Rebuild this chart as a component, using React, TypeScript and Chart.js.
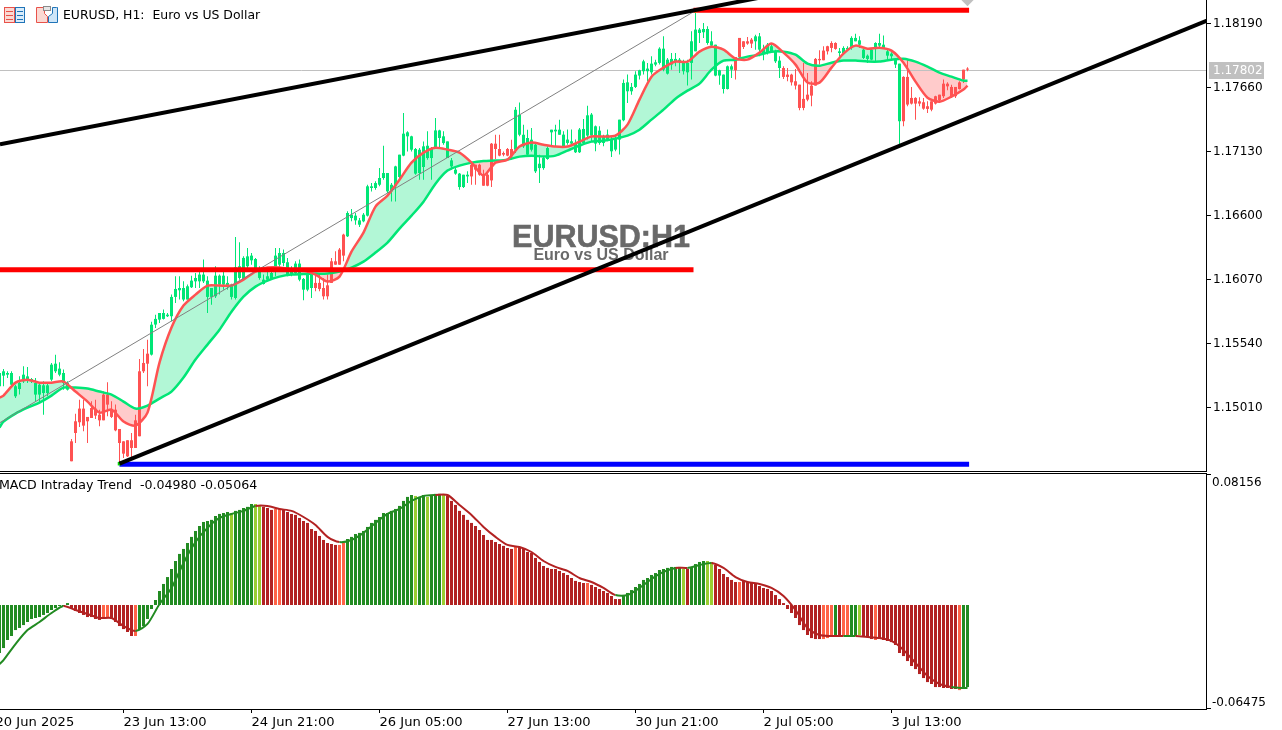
import React, { useEffect, useRef } from "react";
import { Chart, registerables } from "chart.js";

Chart.register(...registerables);

const FONT = '"DejaVu Sans", sans-serif';

// Number of the first bar in every per-bar list (it is cut by the left edge)
const firstBar = -1;

const highs = [
  1.15297,
  1.15330,1.15311,1.15311,1.15200,1.15269,1.15352,1.15347,1.15256,1.15256,1.15220,
  1.15228,1.15214,1.15380,1.15449,1.15385,1.15325,1.15228,1.14750,1.14960,1.15076,
  1.15076,1.14933,1.15062,1.15076,1.14993,1.15145,1.15220,1.15062,1.15035,1.14833,
  1.14731,1.14740,1.14800,1.14952,1.15413,1.15496,1.15573,1.15722,1.15780,1.15794,
  1.15822,1.15794,1.15946,1.16098,1.16098,1.16056,1.16029,1.16103,1.16125,1.16153,
  1.16236,1.16098,1.16001,1.16181,1.16112,1.16139,1.16098,1.16037,1.16423,1.16379,
  1.16263,1.16332,1.16291,1.16250,1.16181,1.16112,1.16167,1.16167,1.16332,1.16332,
  1.16319,1.16250,1.16181,1.16222,1.16236,1.16084,1.16153,1.16112,1.16112,1.16125,
  1.16084,1.16112,1.16250,1.16305,1.16332,1.16451,1.16636,1.16655,1.16622,1.16580,
  1.16622,1.16856,1.16870,1.16884,1.16994,1.17179,1.16953,1.16870,1.17014,1.17105,
  1.17450,1.17298,1.17262,1.17160,1.17160,1.17215,1.17298,1.17168,1.17408,1.17312,
  1.17298,1.17215,1.17077,1.16994,1.16953,1.16939,1.16967,1.17030,1.17022,1.17030,
  1.16981,1.16953,1.17201,1.17270,1.17270,1.17132,1.17160,1.17229,1.17499,1.17538,
  1.17353,1.17312,1.17326,1.17201,1.17105,1.17091,1.17174,1.17312,1.17353,1.17395,
  1.17299,1.17313,1.17313,1.17230,1.17326,1.17401,1.17511,1.17451,1.17346,1.17340,
  1.17271,1.17313,1.17257,1.17271,1.17395,1.17727,1.17768,1.17699,1.17796,1.17809,
  1.17892,1.17865,1.17920,1.17892,1.17994,1.18085,1.17906,1.17947,1.17947,1.17906,
  1.17892,1.17892,1.18127,1.18279,1.18154,1.18196,1.18168,1.18127,1.18016,1.17809,
  1.17768,1.17843,1.17851,1.17914,1.18072,1.18044,1.18080,1.18072,1.18099,1.18113,
  1.18016,1.18030,1.18030,1.17975,1.17920,1.17837,1.17823,1.17776,1.17815,1.17685,
  1.17865,1.17782,1.17713,1.17906,1.17969,1.18003,1.18008,1.18044,1.18036,1.17989,
  1.18003,1.18003,1.18085,1.18107,1.18085,1.17981,1.17934,1.17989,1.18036,1.18107,
  1.18091,1.17975,1.17953,1.17906,1.17859,1.17754,1.17892,1.17666,1.17580,1.17580,
  1.17575,1.17547,1.17547,1.17594,1.17602,1.17727,1.17704,1.17685,1.17666,1.17713,1.17809,1.17829,
];

const closes = [
  1.15297,
  1.15311,1.15297,1.15297,1.15187,1.15214,1.15283,1.15269,1.15247,1.15214,1.15200,
  1.15195,1.15195,1.15366,1.15374,1.15333,1.15297,1.15214,1.14731,1.14897,1.15002,
  1.15002,1.14933,1.15007,1.15002,1.14952,1.15118,1.15118,1.14993,1.14993,1.14833,
  1.14731,1.14740,1.14740,1.14905,1.15311,1.15380,1.15457,1.15697,1.15745,1.15794,
  1.15794,1.15780,1.15927,1.15993,1.16001,1.16001,1.16015,1.16062,1.16084,1.16112,
  1.16112,1.16062,1.16001,1.16103,1.16103,1.16103,1.16043,1.16029,1.16172,1.16181,
  1.16250,1.16263,1.16269,1.16241,1.16167,1.16070,1.16098,1.16125,1.16269,1.16291,
  1.16291,1.16214,1.16153,1.16203,1.16203,1.16076,1.16112,1.16112,1.16043,1.16043,
  1.16001,1.16023,1.16222,1.16222,1.16319,1.16443,1.16622,1.16608,1.16600,1.16561,
  1.16608,1.16843,1.16843,1.16870,1.16912,1.16953,1.16953,1.16856,1.17008,1.17105,
  1.17279,1.17290,1.17257,1.17152,1.17146,1.17174,1.17179,1.17160,1.17306,1.17306,
  1.17257,1.17215,1.17058,1.16981,1.16948,1.16939,1.16939,1.17022,1.17022,1.17022,
  1.16939,1.16939,1.17196,1.17196,1.17152,1.17119,1.17152,1.17152,1.17477,1.17436,
  1.17270,1.17243,1.17229,1.17188,1.17030,1.17077,1.17160,1.17312,1.17312,1.17312,
  1.17271,1.17230,1.17216,1.17197,1.17313,1.17318,1.17431,1.17437,1.17340,1.17304,
  1.17257,1.17271,1.17235,1.17235,1.17395,1.17699,1.17704,1.17666,1.17768,1.17804,
  1.17878,1.17818,1.17859,1.17870,1.17983,1.17983,1.17892,1.17898,1.17898,1.17892,
  1.17870,1.17865,1.18044,1.18141,1.18141,1.18146,1.18146,1.18044,1.18016,1.17804,
  1.17768,1.17837,1.17837,1.17914,1.18072,1.18044,1.18044,1.18058,1.18085,1.18085,
  1.17975,1.18016,1.18003,1.17961,1.17884,1.17823,1.17768,1.17768,1.17713,1.17685,
  1.17567,1.17602,1.17677,1.17898,1.17898,1.17967,1.18003,1.18030,1.18030,1.17961,
  1.17989,1.17989,1.18072,1.18072,1.18052,1.17975,1.17925,1.17975,1.18030,1.18030,
  1.18016,1.17961,1.17942,1.17898,1.17859,1.17749,1.17749,1.17575,1.17575,1.17547,
  1.17539,1.17506,1.17547,1.17589,1.17602,1.17693,1.17693,1.17666,1.17666,1.17704,1.17809,1.17818,
];

const opens = [
  1.15187,
  1.15275,1.15283,1.15200,1.15104,1.15164,1.15228,1.15247,1.15228,1.15118,1.15118,
  1.15131,1.15131,1.15242,1.15311,1.15283,1.15214,1.15159,1.14566,1.14800,1.14889,
  1.14861,1.14897,1.14924,1.14944,1.14905,1.14905,1.15035,1.14933,1.14822,1.14717,
  1.14629,1.14607,1.14676,1.14676,1.14773,1.15311,1.15374,1.15449,1.15698,1.15739,
  1.15745,1.15767,1.15767,1.15927,1.15982,1.15905,1.15905,1.16007,1.16056,1.16056,
  1.16056,1.15927,1.15927,1.15932,1.16029,1.16029,1.16015,1.15927,1.15918,1.16084,
  1.16076,1.16181,1.16230,1.16153,1.16084,1.16034,1.16070,1.16076,1.16153,1.16194,
  1.16208,1.16112,1.16112,1.16125,1.16070,1.15987,1.15987,1.16001,1.16001,1.15993,
  1.15932,1.15932,1.16043,1.16194,1.16194,1.16269,1.16429,1.16580,1.16561,1.16525,
  1.16553,1.16600,1.16829,1.16829,1.16856,1.16912,1.16801,1.16801,1.16843,1.16920,
  1.17097,1.17257,1.17146,1.16948,1.16953,1.17003,1.17077,1.17077,1.17168,1.17243,
  1.17201,1.17077,1.17008,1.16948,1.16837,1.16837,1.16925,1.16925,1.16981,1.16939,
  1.16848,1.16848,1.16892,1.17152,1.17097,1.17105,1.17097,1.17091,1.17146,1.17270,
  1.17174,1.17105,1.17146,1.16967,1.16994,1.16994,1.17069,1.17290,1.17298,1.17270,
  1.17175,1.17202,1.17197,1.17125,1.17125,1.17202,1.17263,1.17263,1.17197,1.17202,
  1.17202,1.17230,1.17133,1.17147,1.17230,1.17390,1.17630,1.17630,1.17666,1.17760,
  1.17796,1.17796,1.17787,1.17851,1.17865,1.17809,1.17776,1.17851,1.17878,1.17878,
  1.17796,1.17787,1.17865,1.17961,1.18113,1.18119,1.18030,1.18008,1.17760,1.17760,
  1.17649,1.17649,1.17809,1.17804,1.17914,1.17997,1.18025,1.18025,1.18044,1.17975,
  1.17947,1.17953,1.17961,1.17878,1.17823,1.17749,1.17749,1.17704,1.17677,1.17492,
  1.17492,1.17561,1.17594,1.17677,1.17887,1.17887,1.17961,1.17989,1.17981,1.17947,
  1.17947,1.17975,1.17989,1.18044,1.18016,1.17906,1.17898,1.17892,1.17989,1.18008,
  1.17989,1.17925,1.17920,1.17851,1.17382,1.17382,1.17520,1.17528,1.17528,1.17528,
  1.17486,1.17484,1.17478,1.17528,1.17555,1.17589,1.17671,1.17583,1.17589,1.17649,1.17727,1.17809,
];

const lows = [
  1.15187,
  1.15187,1.15256,1.15173,1.15090,1.15118,1.15214,1.15214,1.15214,1.15062,1.15049,
  1.14952,1.15104,1.15228,1.15297,1.15269,1.15159,1.15153,1.14566,1.14717,1.14850,
  1.14814,1.14717,1.14924,1.14916,1.14855,1.14905,1.14938,1.14924,1.14814,1.14552,
  1.14593,1.14601,1.14593,1.14676,1.14773,1.15297,1.15187,1.15441,1.15670,1.15711,
  1.15739,1.15761,1.15725,1.15877,1.15905,1.15891,1.15905,1.16001,1.16001,1.16001,
  1.16043,1.15794,1.15863,1.15918,1.15946,1.15987,1.15987,1.15905,1.15905,1.16070,
  1.16070,1.16167,1.16194,1.16139,1.16070,1.16029,1.16056,1.16070,1.16098,1.16167,
  1.16181,1.16098,1.16098,1.16112,1.16056,1.15899,1.15974,1.15918,1.15974,1.15974,
  1.15905,1.15905,1.16043,1.16194,1.16194,1.16222,1.16423,1.16553,1.16525,1.16506,
  1.16545,1.16594,1.16801,1.16815,1.16843,1.16898,1.16787,1.16718,1.16718,1.16912,
  1.17091,1.17132,1.17132,1.16939,1.16898,1.16898,1.17063,1.16898,1.17160,1.17160,
  1.17188,1.17077,1.16981,1.16939,1.16815,1.16829,1.16870,1.16856,1.16856,1.16931,
  1.16848,1.16843,1.16837,1.17069,1.17091,1.17091,1.17091,1.17063,1.17119,1.17257,
  1.17160,1.17097,1.17132,1.16953,1.16870,1.16981,1.17063,1.17174,1.17174,1.17270,
  1.17161,1.17188,1.17175,1.17119,1.17119,1.17188,1.17230,1.17216,1.17133,1.17188,
  1.17175,1.17216,1.17086,1.17133,1.17106,1.17382,1.17533,1.17602,1.17658,1.17727,
  1.17768,1.17713,1.17768,1.17837,1.17851,1.17796,1.17768,1.17809,1.17837,1.17782,
  1.17768,1.17677,1.17727,1.17961,1.18030,1.18072,1.18016,1.18003,1.17754,1.17685,
  1.17611,1.17644,1.17740,1.17727,1.17892,1.17981,1.18016,1.17989,1.17975,1.17920,
  1.17887,1.17934,1.17947,1.17865,1.17740,1.17732,1.17713,1.17677,1.17644,1.17473,
  1.17473,1.17547,1.17506,1.17677,1.17851,1.17887,1.17934,1.17953,1.17975,1.17906,
  1.17934,1.17975,1.17975,1.18044,1.17989,1.17898,1.17865,1.17887,1.17878,1.17989,
  1.17981,1.17892,1.17887,1.17823,1.17188,1.17340,1.17506,1.17520,1.17395,1.17506,
  1.17478,1.17451,1.17464,1.17520,1.17547,1.17575,1.17638,1.17575,1.17575,1.17644,1.17699,1.17796,
];

// Candle colour follows the indicator state: [state, run length]
const candleTrendRuns: [string, number][] = [
  ["up", 18], ["down", 20], ["up", 41], ["down", 8], ["up", 31], ["down", 11],
  ["up", 55], ["down", 5], ["up", 7], ["down", 14], ["up", 16], ["down", 17],
];

// Bars at which the smoothed lines were read
const sampleBars = [
  -1,0,3,6,9,12,15,18,21,24,27,30,33,36,39,42,45,48,51,54,57,60,63,66,69,72,75,78,81,84,87,
  90,93,96,99,102,105,108,111,114,117,120,123,126,129,132,135,138,141,144,147,150,153,156,159,
  162,165,168,171,174,177,180,183,186,189,192,195,198,201,204,207,210,213,216,219,222,225,228,
  231,234,237,240,241,
];

const fastLine = [
  1.15093,
  1.15110,1.15217,1.15242,1.15217,1.15217,1.15226,1.15143,1.15060,1.14969,1.14994,
  1.14895,1.14861,1.14969,1.15383,1.15673,1.15855,1.15946,1.16021,1.16021,1.16021,
  1.16070,1.16137,1.16170,1.16170,1.16153,1.16145,1.16112,1.16054,1.16095,1.16302,
  1.16460,1.16675,1.16766,1.16898,1.17039,1.17122,1.17163,1.17147,1.17122,1.17039,
  1.16932,1.17039,1.17064,1.17172,1.17205,1.17188,1.17172,1.17172,1.17213,1.17255,
  1.17255,1.17263,1.17354,1.17561,1.17751,1.17826,1.17876,1.17876,1.17958,1.17999,
  1.17975,1.17900,1.17892,1.17950,1.18025,1.17950,1.17851,1.17702,1.17702,1.17826,
  1.17942,1.18008,1.17983,1.17991,1.17967,1.17867,1.17710,1.17577,1.17544,1.17586,
  1.17644,1.17677,
];

const slowLine = [
  1.14845,
  1.14894,1.14961,1.15010,1.15052,1.15110,1.15176,1.15176,1.15168,1.15143,1.15118,
  1.15060,1.15002,1.15027,1.15085,1.15143,1.15259,1.15408,1.15532,1.15656,1.15805,
  1.15930,1.16012,1.16062,1.16095,1.16112,1.16116,1.16120,1.16120,1.16137,1.16170,
  1.16219,1.16294,1.16377,1.16493,1.16600,1.16716,1.16865,1.16973,1.17014,1.17039,
  1.17052,1.17056,1.17064,1.17089,1.17097,1.17089,1.17097,1.17139,1.17180,1.17213,
  1.17221,1.17238,1.17263,1.17312,1.17395,1.17478,1.17569,1.17635,1.17693,1.17809,
  1.17884,1.17892,1.17917,1.17933,1.17958,1.17958,1.17933,1.17859,1.17842,1.17867,
  1.17884,1.17884,1.17876,1.17876,1.17892,1.17900,1.17876,1.17834,1.17784,1.17751,
  1.17718,1.17718,
];

const histValues = [
  -0.0299,
  -0.0268,-0.0218,-0.0193,-0.0156,-0.0143,-0.0125,-0.0106,-0.0087,-0.0081,-0.0075,
  -0.0062,-0.0050,-0.0031,-0.0019,-0.0006,-0.0006,0.0012,-0.0019,-0.0037,-0.0050,
  -0.0062,-0.0075,-0.0075,-0.0087,-0.0093,-0.0087,-0.0081,-0.0087,-0.0106,-0.0131,
  -0.0150,-0.0168,-0.0193,-0.0193,-0.0156,-0.0131,-0.0087,-0.0025,0.0031,0.0087,
  0.0131,0.0174,0.0224,0.0274,0.0318,0.0349,0.0386,0.0424,0.0461,0.0492,
  0.0517,0.0523,0.0530,0.0554,0.0567,0.0573,0.0579,0.0573,0.0586,0.0592,
  0.0604,0.0611,0.0629,0.0629,0.0617,0.0611,0.0604,0.0592,0.0598,0.0598,
  0.0592,0.0579,0.0567,0.0561,0.0542,0.0523,0.0511,0.0473,0.0461,0.0430,
  0.0405,0.0386,0.0380,0.0374,0.0374,0.0386,0.0411,0.0424,0.0442,0.0449,
  0.0461,0.0486,0.0511,0.0530,0.0548,0.0573,0.0573,0.0586,0.0598,0.0617,
  0.0648,0.0673,0.0685,0.0679,0.0673,0.0685,0.0673,0.0679,0.0692,0.0692,
  0.0685,0.0679,0.0648,0.0623,0.0586,0.0561,0.0530,0.0511,0.0492,0.0467,
  0.0436,0.0405,0.0405,0.0392,0.0380,0.0368,0.0355,0.0349,0.0361,0.0361,
  0.0349,0.0330,0.0324,0.0293,0.0268,0.0243,0.0231,0.0224,0.0224,0.0212,
  0.0199,0.0187,0.0168,0.0150,0.0143,0.0137,0.0137,0.0125,0.0112,0.0100,
  0.0087,0.0075,0.0056,0.0037,0.0037,0.0062,0.0075,0.0093,0.0112,0.0131,
  0.0156,0.0168,0.0187,0.0199,0.0218,0.0224,0.0231,0.0237,0.0237,0.0237,
  0.0224,0.0224,0.0237,0.0255,0.0268,0.0274,0.0274,0.0268,0.0249,0.0224,
  0.0193,0.0174,0.0156,0.0143,0.0143,0.0150,0.0143,0.0143,0.0137,0.0118,
  0.0106,0.0100,0.0087,0.0062,0.0037,0.0012,-0.0025,-0.0050,-0.0081,-0.0125,
  -0.0156,-0.0187,-0.0206,-0.0212,-0.0212,-0.0212,-0.0206,-0.0199,-0.0193,-0.0193,
  -0.0193,-0.0193,-0.0193,-0.0193,-0.0187,-0.0193,-0.0199,-0.0212,-0.0218,-0.0212,
  -0.0218,-0.0224,-0.0231,-0.0249,-0.0299,-0.0318,-0.0349,-0.0380,-0.0399,-0.0430,
  -0.0455,-0.0480,-0.0492,-0.0511,-0.0511,-0.0517,-0.0517,-0.0523,-0.0523,-0.0530,-0.0511,-0.0511,
];

const histStateRuns: [string, number][] = [
  ["G",18],["R",8],["T",2],["R",6],["T",1],["G",23],["Y",1],["G",5],["Y",2],["R",3],["T",2],
  ["R",14],["T",2],["G",17],["Y",1],["G",2],["Y",1],["G",3],["Y",1],["R",17],["T",1],["R",17],
  ["T",1],["R",8],["G",15],["Y",1],["R",1],["G",4],["Y",2],["R",6],["T",1],["R",20],["T",3],
  ["G",1],["R",1],["T",2],["G",2],["Y",1],["R",3],["T",1],["R",20],["T",1],["G",2],
];

const signalLine = [
  -0.0368,
  -0.0343,-0.0243,-0.0156,-0.0106,-0.0050,-0.0006,
  -0.0031,-0.0056,-0.0081,-0.0081,-0.0131,-0.0162,-0.0118,0.0006,
  0.0106,0.0262,0.0392,0.0480,0.0542,0.0567,0.0586,0.0617,0.0617,0.0598,0.0586,0.0548,0.0498,0.0424,
  0.0392,0.0405,0.0449,0.0511,0.0567,0.0598,0.0648,0.0679,0.0685,0.0685,0.0623,0.0561,0.0486,0.0424,
  0.0374,0.0361,0.0330,0.0274,0.0237,0.0212,0.0168,0.0143,0.0106,0.0062,0.0062,0.0106,
  0.0162,0.0206,0.0231,0.0231,0.0249,0.0262,0.0231,0.0174,0.0143,0.0131,0.0106,0.0056,-0.0031,-0.0143,
  -0.0187,-0.0193,-0.0193,-0.0193,-0.0199,-0.0206,-0.0224,-0.0280,-0.0361,-0.0442,-0.0492,-0.0511,-0.0517,
  -0.0517,
];

const priceTicks = [1.1819, 1.1766, 1.1713, 1.166, 1.1607, 1.1554, 1.1501];
const macdTicks = [0.08156, -0.06475];
const xTickBars = [-2, 30, 62, 94, 126, 158, 190, 222];
const xTickLabels = [
  "20 Jun 2025", "23 Jun 13:00", "24 Jun 21:00", "26 Jun 05:00",
  "27 Jun 13:00", "30 Jun 21:00", "2 Jul 05:00", "3 Jul 13:00",
];
const lastPrice = 1.17802;
const macdMain = "-0.04980";
const macdSignal = "-0.05064";

// Chart objects, [bar, price]
const upperTrend = [[-0.875, 1.17192], [199, 1.18469]];
const lowerTrend = [[29, 1.14546], [300.875, 1.18215]];
const thinTrend = [[-0.875, 1.14886], [173, 1.18298]];
const topLevel = [[172.5, 1.18302], [241.4, 1.18302]];
const midLevel = [[-0.875, 1.16153], [172.5, 1.16153]];
const lowLevel = [[29, 1.14542], [241.4, 1.14542]];
const anchorA = [[29, 1.14546]];
const anchorB = [[173, 1.18298]];
const sellMark = [[241, 1.18389]];

const expand = (runs: [string, number][]) => runs.flatMap(([s, n]) => Array(n).fill(s));
const xy = (rows: number[][]) => rows.map(([x, y]) => ({ x, y }));

const AXIS_W = 75;
const X_MIN = -0.875;
const X_MAX = X_MIN + 1207 / 4;
const GREEN = "#00E676";
const RED = "#FF5252";
const stateColor: Record<string, string> = { G: "#228B22", Y: "#9ACD32", R: "#B22222", T: "#FF6347" };

const fitY = (s: any) => { s.width = AXIS_W; s.paddingTop = 0; s.paddingBottom = 0; };

function drawIcons(c: CanvasRenderingContext2D) {
  c.lineWidth = 1;
  c.strokeStyle = "#E8524A"; c.fillStyle = "#FBD9D3";
  c.fillRect(4, 7, 10, 16); c.strokeRect(4.5, 7.5, 10, 15);
  c.fillStyle = "#E8524A";
  [11, 15, 19].forEach((y) => c.fillRect(6, y, 7, 1));
  c.strokeStyle = "#1F74B8"; c.fillStyle = "#D9ECFA";
  c.fillRect(15, 7, 10, 16); c.strokeRect(15.5, 7.5, 9, 15);
  c.fillStyle = "#1F74B8";
  [11, 15, 19].forEach((y) => c.fillRect(17, y, 6, 1));
  c.strokeStyle = "#E8524A"; c.fillStyle = "#FBD9D3";
  c.beginPath(); c.moveTo(36.5, 7.5); c.lineTo(44.5, 7.5); c.lineTo(44.5, 13.5); c.lineTo(47.5, 16.5); c.lineTo(47.5, 22.5); c.lineTo(36.5, 22.5); c.closePath(); c.fill(); c.stroke();
  c.strokeStyle = "#1F74B8"; c.fillStyle = "#CFE6F8";
  c.beginPath(); c.moveTo(56.5, 7.5); c.lineTo(52.5, 7.5); c.lineTo(52.5, 13.5); c.lineTo(48.5, 16.5); c.lineTo(48.5, 22.5); c.lineTo(57.5, 22.5); c.lineTo(57.5, 7.5); c.closePath(); c.fill(); c.stroke();
  c.strokeStyle = "#8A8A8A"; c.fillStyle = "#E6E6E6";
  c.fillRect(43, 6, 8, 5); c.strokeRect(43.5, 6.5, 7, 4);
}

const pricePanePlugin = {
  id: "pricePane",
  beforeDatasetsDraw(chart: any) {
    const c = chart.ctx as CanvasRenderingContext2D;
    c.save();
    c.fillStyle = "#696969";
    c.strokeStyle = "#696969";
    c.textAlign = "center";
    c.textBaseline = "middle";
    c.font = `bold 30.5px "Liberation Sans", sans-serif`;
    c.lineWidth = 0.6;
    c.fillText("EURUSD:H1", 601, 239);
    c.strokeText("EURUSD:H1", 601, 239);
    c.font = `bold 16px "Liberation Sans", sans-serif`;
    c.fillText("Euro vs US Dollar", 601, 256);
    c.restore();
  },
  afterDraw(chart: any) {
    const c = chart.ctx as CanvasRenderingContext2D;
    const y = chart.scales.y;
    c.save();
    c.fillStyle = "#000";
    c.fillRect(1206, 0, 1, chart.height);
    c.fillRect(0, 471, 1207, 1);
    drawIcons(c);
    c.font = `12.45px ${FONT}`;
    c.textBaseline = "middle";
    c.textAlign = "left";
    c.fillStyle = "#000";
    c.fillText("EURUSD, H1:  Euro vs US Dollar", 63, 16);
    c.font = `12px ${FONT}`;
    const py = Math.round(y.getPixelForValue(lastPrice));
    c.fillStyle = "#C0C0C0";
    c.fillRect(1209, py - 9, 55, 17);
    c.fillStyle = "#FFFFFF";
    c.fillText(lastPrice.toFixed(5), 1213, py);
    c.restore();
  },
};

const macdPanePlugin = {
  id: "macdPane",
  afterDraw(chart: any) {
    const c = chart.ctx as CanvasRenderingContext2D;
    const y = chart.scales.y;
    const b = chart.chartArea.bottom;
    c.save();
    c.fillStyle = "#000";
    c.fillRect(0, 0, 1207, 1);
    c.fillRect(1206, 0, 1, b);
    c.fillRect(0, b - 1, 1207, 1);
    c.font = `12.6px ${FONT}`;
    c.textBaseline = "middle";
    c.textAlign = "left";
    c.fillText(`MACD Intraday Trend  ${macdMain} ${macdSignal}`, -1, 13);
    c.font = `12px ${FONT}`;
    macdTicks.forEach((v) => {
      const p = y.getPixelForValue(v);
      c.fillText(v.toFixed(5), 1212, v > 0 ? p + 9 : p - 6);
    });
    c.restore();
  },
};

export default function App() {
  const priceRef = useRef<HTMLCanvasElement>(null);
  const macdRef = useRef<HTMLCanvasElement>(null);

  useEffect(() => {
    document.body.style.margin = "0";
    document.body.style.background = "#fff";
    const trend = expand(candleTrendRuns);
    const candleColors = trend.map((t) => (t === "up" ? GREEN : RED));
    const states = expand(histStateRuns);

    const overlay = (label: string, rows: number[][], color: string, width: number, order: number) => ({
      type: "line" as const, label, data: xy(rows), borderColor: color, borderWidth: width,
      pointRadius: 0, tension: 0, order, fill: false, borderCapStyle: "butt",
    });
    const marker = (label: string, rows: number[][], color: string, radius: number, style: string, order: number) => ({
      type: "line" as const, label, data: xy(rows), showLine: false, pointStyle: style,
      pointRadius: radius, pointBackgroundColor: color, pointBorderWidth: 0, order,
    });

    const priceChart = new Chart(priceRef.current!, {
      type: "bar",
      data: {
        datasets: [
          overlay("Last", [[X_MIN, lastPrice], [X_MAX, lastPrice]], "#C0C0C0", 1, 12),
          {
            label: "Wicks", grouped: false, barThickness: 1, order: 10, inflateAmount: 0,
            data: highs.map((h, i) => ({ x: i + firstBar, y: [lows[i], h] })),
            backgroundColor: candleColors, borderWidth: 0,
          },
          {
            label: "Bodies", grouped: false, barThickness: 3, order: 9, inflateAmount: 0,
            data: opens.map((o, i) => ({ x: i + firstBar, y: [o, closes[i]] })),
            backgroundColor: candleColors, borderWidth: 0,
          },
          {
            type: "line", label: "Slow", order: 8, tension: 0.25, pointRadius: 0, borderWidth: 2.5,
            borderColor: GREEN, data: sampleBars.map((x, i) => ({ x, y: slowLine[i] })),
          },
          {
            type: "line", label: "Fast", order: 7, tension: 0.25, pointRadius: 0, borderWidth: 2.5,
            borderColor: RED, data: sampleBars.map((x, i) => ({ x, y: fastLine[i] })),
            fill: { target: 3, above: "rgba(0,230,118,0.3)", below: "rgba(255,82,82,0.3)" },
          },
          overlay("Thin trend", thinTrend, "#808080", 1, 6),
          overlay("Low level", lowLevel, "#0000FF", 5, 5),
          overlay("Mid level", midLevel, "#FF0000", 5, 5),
          overlay("Top level", topLevel, "#FF0000", 5, 5),
          overlay("Upper trend", upperTrend, "#000000", 4, 3),
          overlay("Lower trend", lowerTrend, "#000000", 4, 3),
          marker("Anchor A", anchorA, "#00D000", 2.5, "rect", 4),
          marker("Anchor B", anchorB, "#FF9000", 2.5, "rect", 4),
          marker("Sell", sellMark, "#C0C0C0", 6.5, "rectRot", 2),
        ] as any,
      },
      options: {
        responsive: false, animation: false, events: [],
        layout: { padding: 0, autoPadding: false },
        plugins: { legend: { display: false }, tooltip: { enabled: false }, filler: { drawTime: "beforeDatasetsDraw" } as any },
        scales: {
          x: { type: "linear", display: false, min: X_MIN, max: X_MAX, offset: false, grid: { display: false, offset: false } },
          y: {
            position: "right", min: 1.14477, max: 1.18386,
            afterBuildTicks: (s: any) => { s.ticks = priceTicks.map((value) => ({ value })); },
            afterFit: fitY,
            border: { display: false },
            grid: { drawOnChartArea: false, drawTicks: true, tickLength: 4, tickColor: "#000" },
            ticks: {
              autoSkip: false, padding: 2, color: "#000", font: { family: FONT, size: 12 },
              callback: (v: any) => Number(v).toFixed(5),
            },
          },
        },
      } as any,
      plugins: [pricePanePlugin],
    });

    const macdChart = new Chart(macdRef.current!, {
      type: "bar",
      data: {
        datasets: [
          {
            type: "line", label: "Signal", order: 1, tension: 0.25, pointRadius: 0, borderWidth: 2,
            data: sampleBars.map((x, i) => ({ x, y: signalLine[i] })),
            borderColor: stateColor.R,
            segment: {
              borderColor: (ctx: any) => {
                const s = states[Math.round(ctx.p1.parsed.x) - firstBar];
                return s === "G" || s === "Y" ? stateColor.G : stateColor.R;
              },
            },
          },
          {
            label: "Histogram", order: 2, barThickness: 3, grouped: false, inflateAmount: 0, borderWidth: 0,
            data: histValues.map((y, i) => ({ x: i + firstBar, y })),
            backgroundColor: states.map((s) => stateColor[s]),
          },
        ] as any,
      },
      options: {
        responsive: false, animation: false, events: [],
        layout: { padding: 0, autoPadding: false },
        plugins: { legend: { display: false }, tooltip: { enabled: false } },
        scales: {
          x: {
            type: "linear", min: X_MIN, max: X_MAX, offset: false,
            afterBuildTicks: (s: any) => { s.ticks = xTickBars.map((value) => ({ value })); },
            afterFit: (s: any) => { s.height = 20; s.paddingLeft = 0; s.paddingRight = 0; },
            border: { display: false },
            grid: { drawOnChartArea: false, drawTicks: true, tickLength: 3, tickColor: "#000", offset: false },
            ticks: {
              autoSkip: false, align: "start", maxRotation: 0, minRotation: 0, padding: 2, color: "#000",
              font: { family: FONT, size: 13.1 },
              callback: (_: any, i: number) => xTickLabels[i],
            },
          },
          y: {
            position: "right", min: -0.06538, max: 0.08219,
            afterBuildTicks: (s: any) => { s.ticks = macdTicks.map((value) => ({ value })); },
            afterFit: fitY,
            border: { display: false },
            grid: { drawOnChartArea: false, drawTicks: true, tickLength: 4, tickColor: "#000" },
            ticks: { display: false },
          },
        },
      } as any,
      plugins: [macdPanePlugin],
    });

    return () => { priceChart.destroy(); macdChart.destroy(); };
  }, []);

  return (
    <div style={{ position: "relative", width: 1282, height: 730, background: "#fff", overflow: "hidden" }}>
      <canvas ref={priceRef} width={1282} height={472} style={{ position: "absolute", left: 0, top: 0, display: "block" }} />
      <canvas ref={macdRef} width={1282} height={257} style={{ position: "absolute", left: 0, top: 473, display: "block" }} />
    </div>
  );
}
